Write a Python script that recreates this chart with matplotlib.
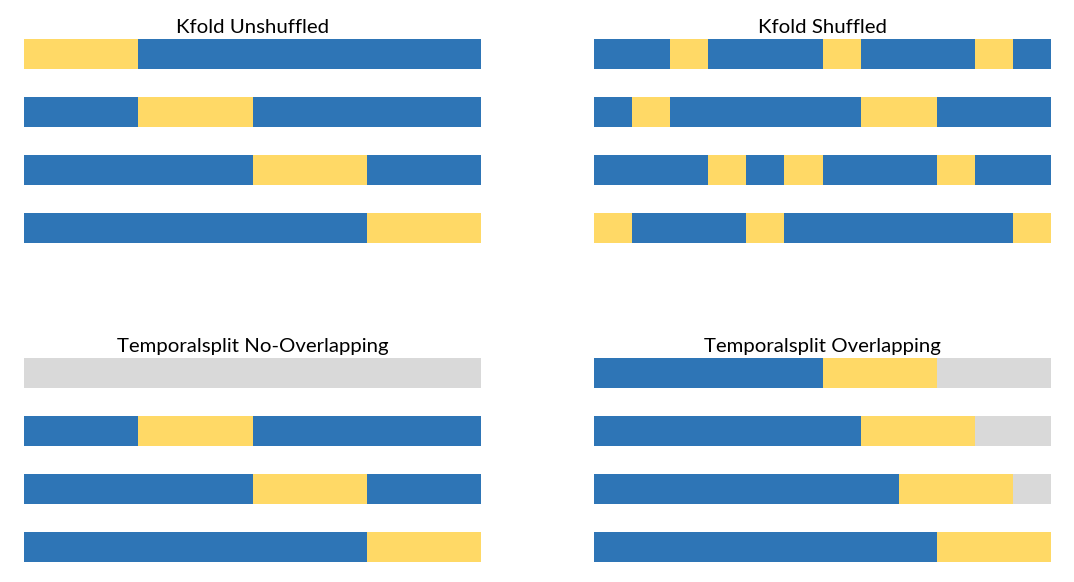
import matplotlib
matplotlib.use("Agg")
import matplotlib.pyplot as plt

# Segment sequences per row: (category, length in units)
titles = ["Kfold Unshuffled", "Kfold Shuffled",
          "Temporalsplit No-Overlapping", "Temporalsplit Overlapping"]

kfold_unshuffled = [
    [("test", 1), ("train", 3)],
    [("train", 1), ("test", 1), ("train", 2)],
    [("train", 2), ("test", 1), ("train", 1)],
    [("train", 3), ("test", 1)],
]
kfold_shuffled = [
    [("train", 2), ("test", 1), ("train", 3), ("test", 1), ("train", 3), ("test", 1), ("train", 1)],
    [("train", 1), ("test", 1), ("train", 5), ("test", 2), ("train", 3)],
    [("train", 3), ("test", 1), ("train", 1), ("test", 1), ("train", 3), ("test", 1), ("train", 2)],
    [("test", 1), ("train", 3), ("test", 1), ("train", 6), ("test", 1)],
]
temporal_no_overlap = [
    [("unused", 4)],
    [("train", 1), ("test", 1), ("train", 2)],
    [("train", 2), ("test", 1), ("train", 1)],
    [("train", 3), ("test", 1)],
]
temporal_overlap = [
    [("train", 6), ("test", 3), ("unused", 3)],
    [("train", 7), ("test", 3), ("unused", 2)],
    [("train", 8), ("test", 3), ("unused", 1)],
    [("train", 9), ("test", 3)],
]
panels = [kfold_unshuffled, kfold_shuffled, temporal_no_overlap, temporal_overlap]

colors = {"train": "#2E75B6", "test": "#FFD966", "unused": "#D9D9D9"}

W, H = 1074, 582
fig = plt.figure(figsize=(W / 100, H / 100), dpi=100)

# axes positions in pixels (left, top)
lefts = [24, 594, 24, 594]
tops = [39, 39, 358, 358]
aw = 457
ah = 204

for i, (rows, title) in enumerate(zip(panels, titles)):
    l, t = lefts[i], tops[i]
    ax = fig.add_axes([l / W, (H - t - ah) / H, aw / W, ah / H])
    for r, segs in enumerate(rows):
        total = sum(n for _, n in segs)
        start = 0
        for cat, n in segs:
            ax.barh(r, n / total, left=start / total, height=30 / 58,
                    color=colors[cat], edgecolor="none")
            start += n
    ax.set_xlim(0, 1)
    ax.set_ylim(3 + 15 / 58, -15 / 58)
    ax.axis("off")
    ax.set_title(title, fontsize=14.7, family=["Lato", "DejaVu Sans"], pad=4, color="black")

fig.savefig("out.png", dpi=100)
